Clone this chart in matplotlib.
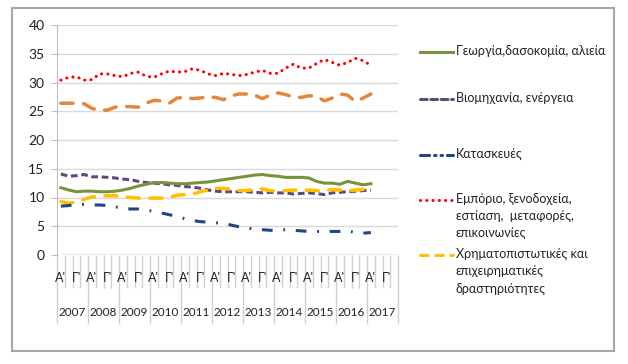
import matplotlib.pyplot as plt
from matplotlib.lines import Line2D
from matplotlib.patches import Rectangle
import matplotlib.transforms as mtransforms

plt.rcParams['font.family'] = ['Lato', 'DejaVu Sans']

# quarterly data, 2007 Q1 .. 2017 Q1
years = [str(y) for y in range(2007, 2018)]
quarter_labels = ["A'", "", "Γ'", ""]

georgia = [11.7, 11.3, 11.0, 11.1, 11.1, 11.0, 11.0, 11.1, 11.3, 11.6,
           12.0, 12.3, 12.6, 12.6, 12.5, 12.4, 12.4, 12.5, 12.6, 12.7,
           12.9, 13.1, 13.3, 13.5, 13.7, 13.9, 14.0, 13.8, 13.7, 13.5,
           13.5, 13.5, 13.4, 12.8, 12.5, 12.5, 12.3, 12.8, 12.5, 12.2, 12.4]
viomixania = [14.1, 13.7, 13.8, 14.0, 13.6, 13.6, 13.5, 13.4, 13.2, 13.1,
              12.8, 12.6, 12.5, 12.4, 12.2, 12.1, 11.9, 11.8, 11.6, 11.3,
              11.1, 11.0, 11.0, 11.0, 11.0, 10.9, 10.8, 10.9, 10.8, 10.8,
              10.6, 10.7, 10.8, 10.7, 10.5, 10.8, 10.9, 11.0, 11.1, 11.2, 11.3]
kataskeves = [8.5, 8.6, 8.8, 8.8, 8.7, 8.7, 8.6, 8.4, 8.1, 8.0,
              8.0, 7.8, 7.6, 7.3, 7.0, 6.7, 6.3, 6.0, 5.8, 5.7,
              5.6, 5.5, 5.2, 4.9, 4.7, 4.5, 4.4, 4.3, 4.3, 4.4,
              4.3, 4.2, 4.1, 4.1, 4.1, 4.1, 4.1, 4.2, 3.9, 3.8, 3.9]
emporio = [30.4, 30.9, 31.0, 30.4, 30.5, 31.5, 31.5, 31.2, 31.0, 31.6,
           31.8, 31.1, 30.9, 31.5, 32.0, 31.8, 31.9, 32.4, 32.1, 31.5,
           31.2, 31.6, 31.4, 31.2, 31.4, 31.8, 32.1, 31.6, 31.6, 32.5,
           33.2, 32.5, 32.5, 33.3, 34.0, 33.5, 33.0, 33.5, 34.2, 33.8, 33.0]
dimosia = [26.4, 26.4, 26.4, 26.3, 25.5, 25.2, 25.2, 25.7, 25.8, 25.8,
           25.7, 26.4, 26.9, 26.8, 26.4, 27.3, 27.4, 27.2, 27.3, 27.5,
           27.4, 27.0, 27.7, 28.0, 28.0, 27.8, 27.2, 27.8, 28.2, 27.9,
           27.5, 27.4, 27.7, 27.6, 26.8, 27.3, 28.0, 27.8, 26.7, 27.3, 28.0]
xrimatopistotikes = [9.3, 9.0, 9.2, 9.7, 10.1, 10.2, 10.3, 10.3, 10.1, 10.0,
                     9.9, 9.9, 9.9, 9.9, 10.0, 10.4, 10.5, 10.6, 11.0, 11.3,
                     11.6, 11.6, 11.4, 11.2, 11.2, 11.4, 11.5, 11.2, 11.1, 11.2,
                     11.3, 11.2, 11.3, 11.2, 11.2, 11.4, 11.3, 11.2, 11.3, 11.4, 11.3]

n_cat = len(years) * 4
x = list(range(len(georgia)))

fig = plt.figure(figsize=(6.28, 3.64), dpi=100)
fig.patches.append(Rectangle((12 / 628, 1 - 351 / 364), 602 / 628, 343 / 364,
                             transform=fig.transFigure, fill=False,
                             edgecolor='#a6a6a6', linewidth=1.5))

ax = fig.add_axes([57 / 628, 109 / 364, 341 / 628, 230 / 364])

lw = 2.2
ax.plot(x, emporio, color='#ff0000', lw=lw, ls=(0, (0.05, 2.0)),
        dash_capstyle='round')
ax.plot(x, dimosia, color='#e3873a', lw=lw + 0.3, ls=(0, (3.5, 3.0)),
        dash_capstyle='round')
ax.plot(x, viomixania, color='#5f4a7b', lw=lw, ls=(0, (2.2, 1.2)))
ax.plot(x, georgia, color='#77933c', lw=lw)
ax.plot(x, xrimatopistotikes, color='#ffc000', lw=lw + 0.3, ls=(0, (3.5, 3.0)),
        dash_capstyle='round')
ax.plot(x, kataskeves, color='#1f497d', lw=lw, ls=(0, (3.5, 3.5, 0.6, 3.5)))

ax.set_xlim(-0.5, n_cat - 0.5)
ax.set_ylim(0, 40)
ax.set_yticks(range(0, 41, 5))
ax.yaxis.grid(True, color='#d9d9d9', lw=1)
ax.set_axisbelow(True)
for s in ['top', 'right', 'bottom']:
    ax.spines[s].set_visible(False)
ax.spines['left'].set_color('#bfbfbf')
ax.tick_params(axis='y', length=4, color='#bfbfbf', labelsize=10, pad=5,
               labelcolor='#222222')

# multi-level category axis
ax.set_xticks([i - 0.5 for i in range(0, n_cat + 1, 4)])
ax.set_xticks([i - 0.5 for i in range(n_cat + 1) if i % 4], minor=True)
ax.tick_params(axis='x', which='major', length=50, color='#d0d0d0', width=1,
               labelbottom=False)
ax.tick_params(axis='x', which='minor', length=24, color='#d0d0d0', width=1)
ax.axhline(0, color='#bfbfbf', lw=1)

trans = mtransforms.blended_transform_factory(ax.transData, ax.transAxes)
for i in range(n_cat):
    lab = quarter_labels[i % 4]
    if lab:
        ax.text(i, -0.1, lab, transform=trans, ha='center', va='center',
                fontsize=9, color='#222222')
for j, yr in enumerate(years):
    ax.text(j * 4 + 1.5, -0.252, yr, transform=trans, ha='center',
            va='center', fontsize=8.5, color='#222222')

# legend drawn beside the plot
legend_items = [
    ('Γεωργία,δασοκομία, αλιεία', '#77933c', '-', 52),
    ('Βιομηχανία, ενέργεια', '#5f4a7b', (0, (2.2, 1.2)), 99),
    ('Κατασκευές', '#1f497d', (0, (3.0, 1.6, 0.5, 1.6, 0.5, 1.6)), 155),
    ('Εμπόριο, ξενοδοχεία,\nεστίαση,  μεταφορές,\nεπικοινωνίες', '#ff0000',
     (0, (0.05, 2.0)), 200),
    ('Χρηματοπιστωτικές και\nεπιχειρηματικές\nδραστηριότητες', '#ffc000',
     (0, (2.5, 2.5)), 255),
]
for label, color, ls, ypx in legend_items:
    yf = 1 - ypx / 364
    fig.add_artist(Line2D([420 / 628, 453 / 628], [yf, yf], color=color,
                          lw=lw, ls=ls, dash_capstyle='round',
                          transform=fig.transFigure))
    fig.text(456 / 628, yf + 7 / 364, label, fontsize=9, va='top', ha='left',
             color='#222222', linespacing=1.5, transform=fig.transFigure)

fig.savefig('out.png', dpi=100)
